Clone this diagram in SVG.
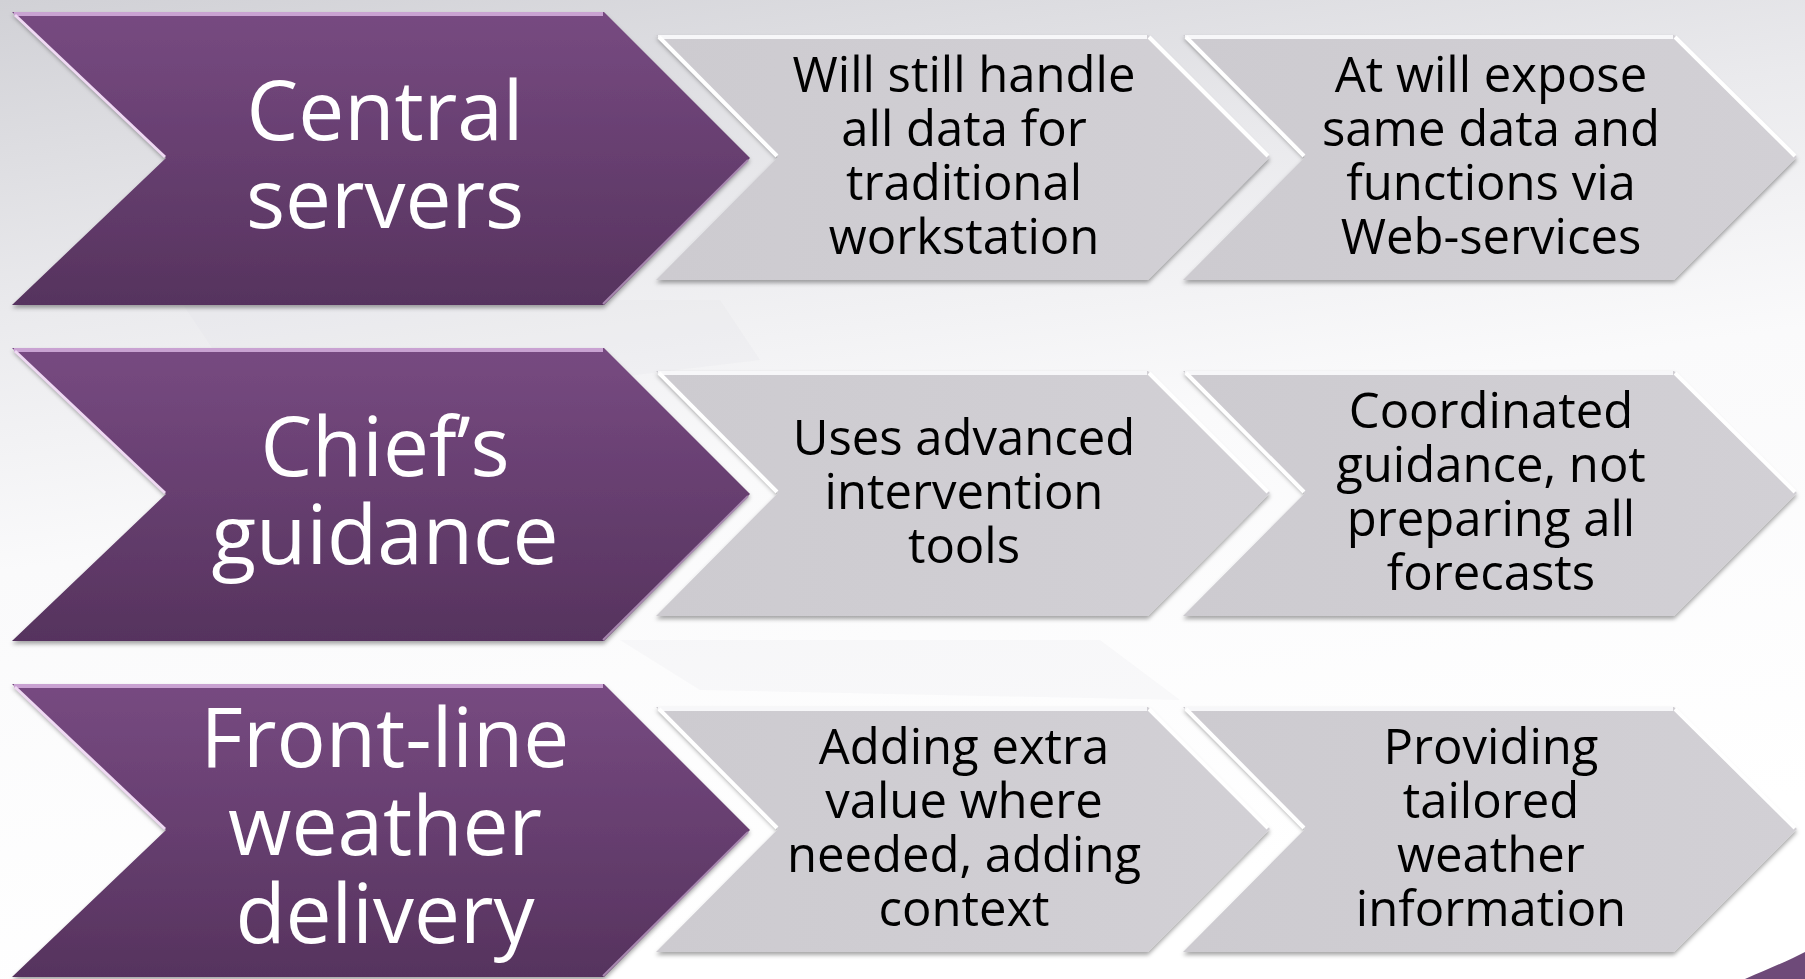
<svg xmlns="http://www.w3.org/2000/svg" width="1805" height="979" viewBox="0 0 1805 979">
  <defs>
    <linearGradient id="bg" x1="0" y1="0" x2="0.25" y2="1">
      <stop offset="0" stop-color="#d1d1d6"/>
      <stop offset="0.3" stop-color="#eaeaed"/>
      <stop offset="0.55" stop-color="#fafafb"/>
      <stop offset="1" stop-color="#ffffff"/>
    </linearGradient>
    <linearGradient id="pur" x1="0" y1="0" x2="0" y2="1">
      <stop offset="0" stop-color="#774a81"/>
      <stop offset="1" stop-color="#56335e"/>
    </linearGradient>
    <linearGradient id="gry" x1="0" y1="0" x2="1" y2="0">
      <stop offset="0" stop-color="#cdcbd0"/>
      <stop offset="1" stop-color="#d2d0d5"/>
    </linearGradient>
    <filter id="sh" x="-5%" y="-5%" width="110%" height="115%">
      <feDropShadow dx="0" dy="3" stdDeviation="2" flood-color="#000" flood-opacity="0.35"/>
    </filter>
    <style>
      .p { fill: url(#pur); filter: url(#sh); }
      .g { fill: url(#gry); filter: url(#sh); }
      .ptop { fill: none; stroke: #c9a2d2; stroke-width: 4; }
      .pleft { fill: none; stroke: #efd9f3; stroke-width: 3; }
      .pedge { fill: none; stroke: #a888b0; stroke-width: 2; }
      .gtop { fill: none; stroke: #f7f7f9; stroke-width: 4; }
      .gleft { fill: none; stroke: #ffffff; stroke-width: 4; }
      .pt { font-family: "Open Sans", "DejaVu Sans", sans-serif; font-size: 82px; fill: #ffffff; text-anchor: middle; }
      .gt { font-family: "Open Sans", "DejaVu Sans", sans-serif; font-size: 49px; fill: #000000; text-anchor: middle; }
    </style>
  </defs>

  <rect x="0" y="0" width="1805" height="979" fill="url(#bg)"/>
  <g opacity="0.2">
    <polygon points="180,300 720,300 760,360 260,420" fill="#e0e0e4"/>
    <polygon points="620,640 1100,640 1180,700 700,690" fill="#e8e8eb"/>
  </g>
  <path d="M1745,979 C1770,968 1790,960 1805,952 L1805,979 Z" fill="#6e4a79"/>

  <g id="connectors"></g>

  <!-- Row 1 -->
  <g id="central-servers">
    <polygon class="p" points="12,12 604,12 750,158 604,305 12,305 166,158"/>
    <polyline class="ptop" points="14,14 603,14"/>
    <polyline class="pleft" points="15,15 165,157"/>
    <polyline class="pedge" points="748,160 603,304"/>
    <text class="pt"><tspan x="385" y="140">Central</tspan><tspan x="385" y="228">servers</tspan></text>
  </g>
  <g id="will-still-handle">
    <polygon class="g" points="656,35 1148,35 1270,157 1148,280 656,280 778,157"/>
    <polyline class="gtop" points="658,37 1147,37"/>
    <polyline class="gleft" points="659,37 777,156"/>
    <polyline class="gleft" points="1149,37 1268,156" stroke-width="2"/>
    <text class="gt"><tspan x="964" y="92">Will still handle</tspan><tspan x="964" y="146">all data for</tspan><tspan x="964" y="200">traditional</tspan><tspan x="964" y="254">workstation</tspan></text>
  </g>
  <g id="at-will-expose">
    <polygon class="g" points="1183,35 1674,35 1797,157 1674,280 1183,280 1305,157"/>
    <polyline class="gtop" points="1185,37 1673,37"/>
    <polyline class="gleft" points="1186,37 1304,156"/>
    <polyline class="gleft" points="1675,37 1795,156" stroke-width="2"/>
    <text class="gt"><tspan x="1491" y="92">At will expose</tspan><tspan x="1491" y="146">same data and</tspan><tspan x="1491" y="200">functions via</tspan><tspan x="1491" y="254">Web-services</tspan></text>
  </g>

  <!-- Row 2 -->
  <g id="chiefs-guidance">
    <polygon class="p" points="12,348 604,348 750,494 604,641 12,641 166,494"/>
    <polyline class="ptop" points="14,350 603,350"/>
    <polyline class="pleft" points="15,351 165,493"/>
    <polyline class="pedge" points="748,496 603,640"/>
    <text class="pt"><tspan x="385" y="476">Chief’s</tspan><tspan x="385" y="564">guidance</tspan></text>
  </g>
  <g id="uses-advanced">
    <polygon class="g" points="656,371 1148,371 1270,493 1148,616 656,616 778,493"/>
    <polyline class="gtop" points="658,373 1147,373"/>
    <polyline class="gleft" points="659,373 777,492"/>
    <polyline class="gleft" points="1149,373 1268,492" stroke-width="2"/>
    <text class="gt"><tspan x="964" y="455">Uses advanced</tspan><tspan x="964" y="509">intervention</tspan><tspan x="964" y="563">tools</tspan></text>
  </g>
  <g id="coordinated-guidance">
    <polygon class="g" points="1183,371 1674,371 1797,493 1674,616 1183,616 1305,493"/>
    <polyline class="gtop" points="1185,373 1673,373"/>
    <polyline class="gleft" points="1186,373 1304,492"/>
    <polyline class="gleft" points="1675,373 1795,492" stroke-width="2"/>
    <text class="gt"><tspan x="1491" y="428">Coordinated</tspan><tspan x="1491" y="482">guidance, not</tspan><tspan x="1491" y="536">preparing all</tspan><tspan x="1491" y="590">forecasts</tspan></text>
  </g>

  <!-- Row 3 -->
  <g id="front-line">
    <polygon class="p" points="12,684 604,684 750,830 604,977 12,977 166,830"/>
    <polyline class="ptop" points="14,686 603,686"/>
    <polyline class="pleft" points="15,687 165,829"/>
    <polyline class="pedge" points="748,832 603,976"/>
    <text class="pt"><tspan x="385" y="767">Front-line</tspan><tspan x="385" y="855">weather</tspan><tspan x="385" y="943">delivery</tspan></text>
  </g>
  <g id="adding-extra">
    <polygon class="g" points="656,707 1148,707 1270,829 1148,952 656,952 778,829"/>
    <polyline class="gtop" points="658,709 1147,709"/>
    <polyline class="gleft" points="659,709 777,828"/>
    <polyline class="gleft" points="1149,709 1268,828" stroke-width="2"/>
    <text class="gt"><tspan x="964" y="764">Adding extra</tspan><tspan x="964" y="818">value where</tspan><tspan x="964" y="872">needed, adding</tspan><tspan x="964" y="926">context</tspan></text>
  </g>
  <g id="providing-tailored">
    <polygon class="g" points="1183,707 1674,707 1797,829 1674,952 1183,952 1305,829"/>
    <polyline class="gtop" points="1185,709 1673,709"/>
    <polyline class="gleft" points="1186,709 1304,828"/>
    <polyline class="gleft" points="1675,709 1795,828" stroke-width="2"/>
    <text class="gt"><tspan x="1491" y="764">Providing</tspan><tspan x="1491" y="818">tailored</tspan><tspan x="1491" y="872">weather</tspan><tspan x="1491" y="926">information</tspan></text>
  </g>
</svg>
